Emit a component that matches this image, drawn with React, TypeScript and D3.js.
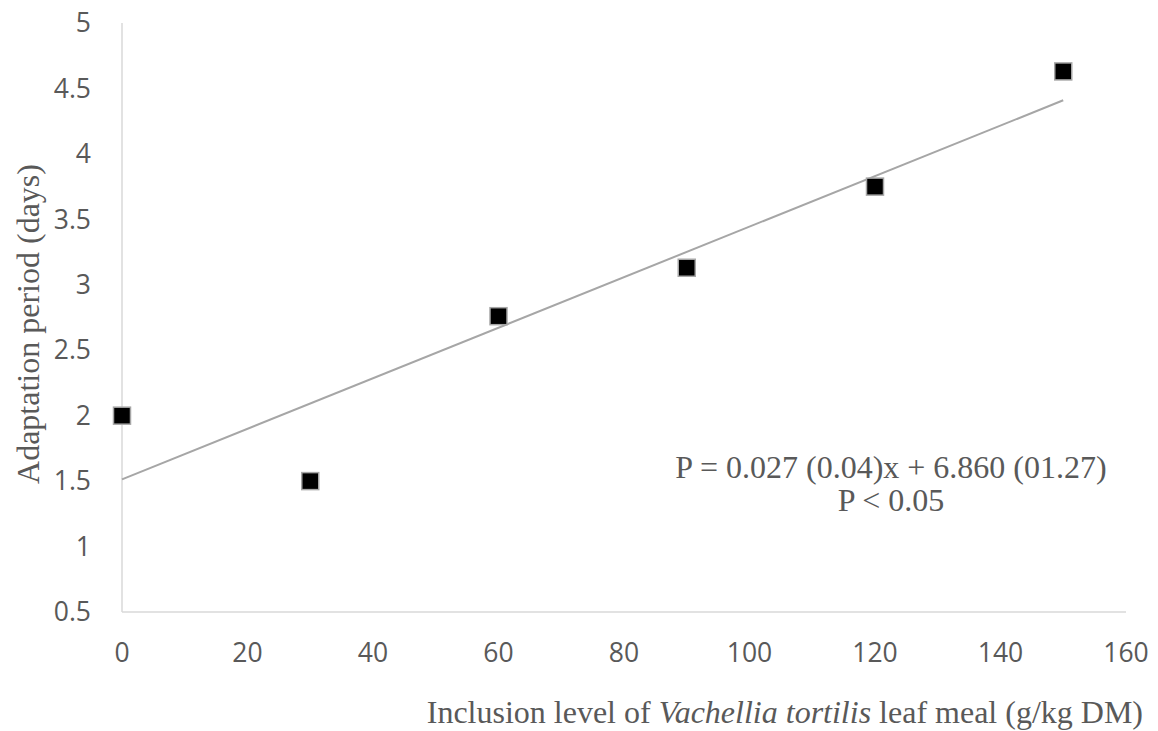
import React from "react";
import * as d3 from "d3";

const inclusionLevels = [0, 30, 60, 90, 120, 150];
const adaptationDays = [2.0, 1.5, 2.76, 3.13, 3.75, 4.63];
const xTicks = [0, 20, 40, 60, 80, 100, 120, 140, 160];
const yTicks = [0.5, 1, 1.5, 2, 2.5, 3, 3.5, 4, 4.5, 5];
const equationLines = ["P = 0.027 (0.04)x + 6.860 (01.27)", "P < 0.05"];

export default function App() {
  const W = 1158, H = 731;
  const x = d3.scaleLinear().domain([0, 160]).range([122, 1126]);
  const y = d3.scaleLinear().domain([0.5, 5]).range([612, 23]);

  // least squares trendline
  const mx = d3.mean(inclusionLevels)!;
  const my = d3.mean(adaptationDays)!;
  let sxy = 0, sxx = 0;
  inclusionLevels.forEach((v, i) => {
    sxy += (v - mx) * (adaptationDays[i] - my);
    sxx += (v - mx) * (v - mx);
  });
  const slope = sxy / sxx;
  const intercept = my - slope * mx;
  const x0 = d3.min(inclusionLevels)!, x1 = d3.max(inclusionLevels)!;
  const line = d3.line<[number, number]>().x(d => x(d[0])).y(d => y(d[1]));
  const trend = line([[x0, intercept + slope * x0], [x1, intercept + slope * x1]]);

  const tickFont = "'Open Sans', 'Noto Sans', sans-serif";
  const serif = "'Liberation Serif', 'Times New Roman', serif";
  const ms = 17;

  return (
    <svg width={W} height={H} style={{ position: "absolute", left: 0, top: 0, background: "#fff" }}>
      <line x1={x(0)} x2={x(0)} y1={y(5)} y2={y(0.5)} stroke="#d9d9d9" strokeWidth={1.5} />
      <line x1={x(0)} x2={x(160)} y1={y(0.5)} y2={y(0.5)} stroke="#d9d9d9" strokeWidth={1.5} />
      {yTicks.map(t => (
        <text key={t} x={91} y={y(t)} dy="0.35em" textAnchor="end" fontFamily={tickFont} fontSize={26.5} fill="#595959">
          {t}
        </text>
      ))}
      {xTicks.map(t => (
        <text key={t} x={x(t)} y={653} dy="0.35em" textAnchor="middle" fontFamily={tickFont} fontSize={26.5} fill="#595959">
          {t}
        </text>
      ))}
      <path d={trend || ""} stroke="#a6a6a6" strokeWidth={2} fill="none" />
      {inclusionLevels.map((v, i) => (
        <rect key={i} x={x(v) - ms / 2} y={y(adaptationDays[i]) - ms / 2} width={ms} height={ms}
          fill="#000" stroke="#a6a6a6" strokeWidth={1.5} />
      ))}
      {equationLines.map((s, i) => (
        <text key={i} x={891} y={467 + i * 33} dy="0.35em" textAnchor="middle" fontFamily={serif} fontSize={32} fill="#595959">
          {s}
        </text>
      ))}
      <text x={1143} y={712} dy="0.35em" textAnchor="end" fontFamily={serif} fontSize={32} fill="#595959">
        Inclusion level of <tspan fontStyle="italic">Vachellia tortilis</tspan> leaf meal (g/kg DM)
      </text>
      <text transform={`translate(28,324) rotate(-90)`} dy="0.35em" textAnchor="middle" fontFamily={serif} fontSize={32} fill="#595959">
        Adaptation period (days)
      </text>
    </svg>
  );
}
